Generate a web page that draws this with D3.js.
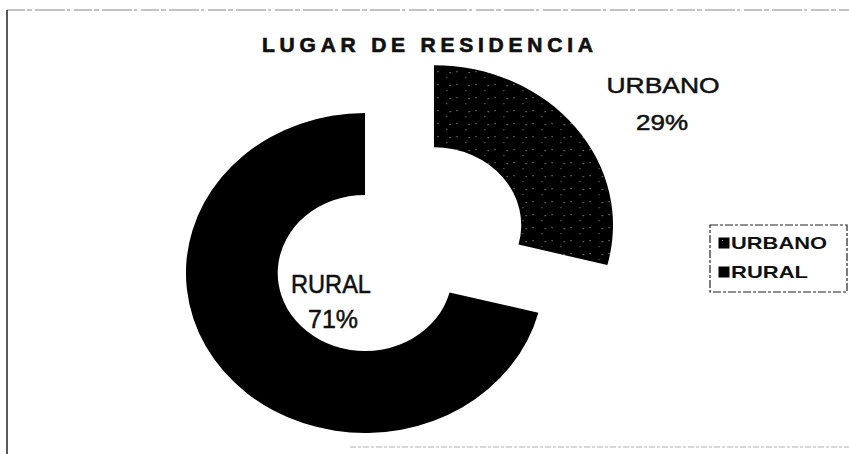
<!DOCTYPE html>
<html>
<head>
<meta charset="utf-8">
<script src="https://cdn.jsdelivr.net/npm/d3@7"></script>
<style>
    body { margin: 0; background: #fff; }
    #chart-area { width: 849px; height: 454px; }
    text { font-family: "Liberation Sans", Arial, sans-serif; fill: #111; }
</style>
</head>
<body>
<div id="chart-area"></div>
<script>

// data
const categories = ["URBANO", "RURAL"];
const values = [29, 71];
const pctLabels = ["29%", "71%"];
const chartTitle = "LUGAR DE RESIDENCIA";

class DonutVis {
    constructor(parentElement) {
        this.parentElement = parentElement;
        this.initVis();
    }

    initVis() {
        let vis = this;

        vis.width = 849;
        vis.height = 454;

        vis.svg = d3.select("#" + vis.parentElement).append("svg")
            .attr("width", vis.width)
            .attr("height", vis.height);

        // speckled fill for the urban slice (mostly black, a few light dots)
        let pat = vis.svg.append("defs").append("pattern")
            .attr("id", "speckle")
            .attr("patternUnits", "userSpaceOnUse")
            .attr("width", 17).attr("height", 13);
        pat.append("rect").attr("width", 17).attr("height", 13).attr("fill", "#000");
        pat.append("rect").attr("x", 3).attr("y", 2).attr("width", 1).attr("height", 1).attr("fill", "#aaa");
        pat.append("rect").attr("x", 11).attr("y", 8).attr("width", 1).attr("height", 1).attr("fill", "#888");
        pat.append("rect").attr("x", 14).attr("y", 3).attr("width", 1).attr("height", 1).attr("fill", "#bbb");

        vis.fills = {URBANO: "url(#speckle)", RURAL: "#000"};

        // frame of the scanned chart area
        vis.svg.append("line").attr("x1", 7).attr("x2", 849).attr("y1", 10).attr("y2", 10)
            .attr("stroke", "#888").attr("stroke-width", 1.2).attr("stroke-dasharray", "18,2,5,3,30,2,3,4");
        vis.svg.append("line").attr("x1", 7).attr("x2", 7).attr("y1", 10).attr("y2", 454)
            .attr("stroke", "#222").attr("stroke-width", 1.5);
        vis.svg.append("line").attr("x1", 350).attr("x2", 849).attr("y1", 447).attr("y2", 447)
            .attr("stroke", "#ccc").attr("stroke-width", 1.5).attr("stroke-dasharray", "6,2,3,2");

        // title
        vis.svg.append("text")
            .attr("x", 262).attr("y", 52)
            .attr("textLength", 331).attr("lengthAdjust", "spacing")
            .style("font-size", "21px").style("font-weight", "bold")
            .style("stroke", "#111").style("stroke-width", 0.7)
            .text(chartTitle);

        vis.updateVis();
    }

    updateVis() {
        let vis = this;

        let pie = d3.pie().sort(null).value(d => d.value);
        let arcs = pie(categories.map((c, i) => ({name: c, value: values[i], label: pctLabels[i]})));

        let arc = d3.arc().innerRadius(78).outerRadius(160);
        let explode = 78;

        // the scan is stretched sideways, so the donut is a bit wider than tall
        let g = vis.svg.append("g")
            .attr("transform", "translate(365,273) scale(1.119,1)");

        g.selectAll(".slice")
            .data(arcs)
            .enter().append("path")
            .attr("class", "slice")
            .attr("d", arc)
            .attr("fill", d => vis.fills[d.data.name])
            .attr("transform", function(d) {
                if (d.data.name !== "URBANO") return null;
                let a = (d.startAngle + d.endAngle) / 2;
                return `translate(${Math.sin(a) * explode},${-Math.cos(a) * explode})`;
            });

        // data labels: [name centre x, name baseline, name width, pct centre x, pct baseline, pct width, size]
        let labelPos = {
            URBANO: [663, 93, 113, 662, 130, 52, 22],
            RURAL: [331, 293, 80, 333, 328, 50, 25]
        };
        arcs.forEach(d => {
            let p = labelPos[d.data.name];
            vis.svg.append("text").attr("x", p[0] - p[2] / 2).attr("y", p[1])
                .attr("textLength", p[2]).attr("lengthAdjust", "spacingAndGlyphs")
                .style("font-size", p[6] + "px").style("stroke", "#111").style("stroke-width", 0.5)
                .text(d.data.name);
            vis.svg.append("text").attr("x", p[3] - p[5] / 2).attr("y", p[4])
                .attr("textLength", p[5]).attr("lengthAdjust", "spacingAndGlyphs")
                .style("font-size", p[6] + "px").style("stroke", "#111").style("stroke-width", 0.5)
                .text(d.data.label);
        });

        // legend
        let legend = vis.svg.append("g").attr("transform", "translate(710,225)");
        legend.append("rect").attr("width", 137).attr("height", 67)
            .attr("fill", "none").attr("stroke", "#222").attr("stroke-width", 1.2)
            .attr("stroke-dasharray", "8,2,3,2");

        let items = legend.selectAll(".legend-item")
            .data(categories)
            .enter().append("g")
            .attr("class", "legend-item")
            .attr("transform", (d, i) => `translate(9,${13 + i * 29})`);

        items.append("rect").attr("width", 10).attr("height", 10)
            .attr("fill", d => vis.fills[d]).attr("stroke", "#000");
        items.append("text").attr("x", 12).attr("y", 11)
            .attr("textLength", d => d === "URBANO" ? 96 : 77).attr("lengthAdjust", "spacingAndGlyphs")
            .style("font-size", "17px").style("font-weight", "bold")
            .text(d => d);
    }
}

new DonutVis("chart-area");
</script>
</body>
</html>
